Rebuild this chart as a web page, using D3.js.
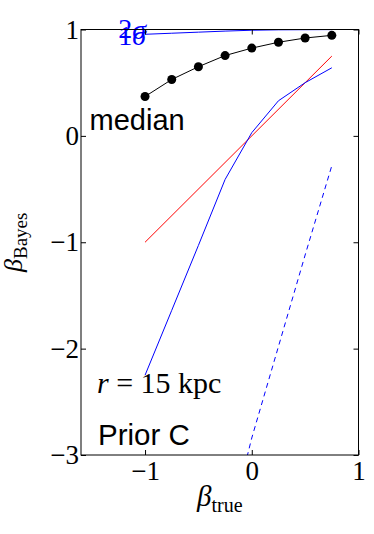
<!DOCTYPE html>
<html>
<head>
<meta charset="utf-8">
<script src="https://cdn.jsdelivr.net/npm/d3@7"></script>
<style>
  body { margin: 0; background: #fff; }
  svg { display: block; }
</style>
</head>
<body>
<div class="svg"></div>
<script>
// beta_true grid
var betaTrue = [-1, -0.75, -0.5, -0.25, 0, 0.25, 0.5, 0.75];
// median of posterior (black dots)
var medianVals = [0.37, 0.53, 0.65, 0.755, 0.825, 0.88, 0.92, 0.945];
// solid blue line
var blueSolid = [-2.25, -1.64, -1.03, -0.41, 0.03, 0.33, 0.50, 0.64];
// dashed blue line (runs below the axis at the left)
var dashX = [-0.25, 0, 0.25, 0.5, 0.75];
var blueDashed = [-3.84, -2.84, -1.98, -1.12, -0.28];
// sigma lines near the top
var sigma1 = [0.955, 0.965, 0.975, 0.985, 0.993, 0.997, 0.998, 0.999];
var sigma2 = [1.0, 1.0, 1.0, 1.0, 1.0, 1.0, 1.0, 1.0];
// one-to-one reference
var refX = [-1, 0.75];
var xTicks = [-1, 0, 1];
var yTicks = [-3, -2, -1, 0, 1];

var width = 374, height = 534;
var margin = {left: 81, right: 15.5, top: 29.5, bottom: 79};

var svg = d3.select(".svg").append("svg")
    .attr("width", width)
    .attr("height", height);

var x = d3.scaleLinear().domain([-1.6, 1]).range([margin.left, width - margin.right]);
var y = d3.scaleLinear().domain([-3, 1]).range([height - margin.bottom, margin.top]);

svg.append("clipPath").attr("id", "clip")
  .append("rect")
    .attr("x", x(-1.6)).attr("y", y(1))
    .attr("width", x(1) - x(-1.6)).attr("height", y(-3) - y(1));

var plot = svg.append("g").attr("clip-path", "url(#clip)");

var line = d3.line()
    .x(function (d) { return x(d[0]); })
    .y(function (d) { return y(d[1]); });

function pairs(xs, ys) {
    return xs.map(function (v, i) { return [v, ys[i]]; });
}

// red 1:1 line
plot.append("path")
    .attr("d", line(pairs(refX, refX)))
    .attr("fill", "none").attr("stroke", "#ff0000").attr("stroke-width", 1);

// blue solid
plot.append("path")
    .attr("d", line(pairs(betaTrue, blueSolid)))
    .attr("fill", "none").attr("stroke", "#0000ff").attr("stroke-width", 1);

// blue dashed
plot.append("path")
    .attr("d", line(pairs(dashX, blueDashed)))
    .attr("fill", "none").attr("stroke", "#0000ff").attr("stroke-width", 1)
    .attr("stroke-dasharray", "5,4");

// sigma lines
[sigma2, sigma1].forEach(function (s) {
    plot.append("path")
        .attr("d", line(pairs(betaTrue, s)))
        .attr("fill", "none").attr("stroke", "#0000ff").attr("stroke-width", 1);
});

// median line + dots
plot.append("path")
    .attr("d", line(pairs(betaTrue, medianVals)))
    .attr("fill", "none").attr("stroke", "#000").attr("stroke-width", 1);
plot.selectAll("circle")
    .data(pairs(betaTrue, medianVals))
    .enter().append("circle")
    .attr("cx", function (d) { return x(d[0]); })
    .attr("cy", function (d) { return y(d[1]); })
    .attr("r", 4.5)
    .attr("fill", "#000");

// sigma labels (they overlap in the original too)
var sig = svg.append("g")
    .attr("font-family", "'Liberation Serif', serif")
    .attr("font-size", 28)
    .attr("fill", "#0000ff")
    .attr("text-anchor", "end")
    .attr("dominant-baseline", "central");
sig.append("text").attr("x", x(betaTrue[0]) + 1).attr("y", y(sigma2[0]) - 1)
    .html('2<tspan font-style="italic">σ</tspan>');
sig.append("text").attr("x", x(betaTrue[0]) + 1).attr("y", y(sigma1[0]) + 1)
    .html('1<tspan font-style="italic">σ</tspan>');

// annotations
svg.append("text")
    .attr("x", x(-1.52)).attr("y", y(0.056))
    .attr("font-family", "'Liberation Sans', Arial, sans-serif")
    .attr("font-size", 29)
    .text("median");
svg.append("text")
    .attr("x", x(-1.45)).attr("y", y(-2.42))
    .attr("font-family", "'Liberation Serif', serif")
    .attr("font-size", 30)
    .html('<tspan font-style="italic">r</tspan> = 15 kpc');
svg.append("text")
    .attr("x", x(-1.44)).attr("y", y(-2.91))
    .attr("font-family", "'Liberation Sans', Arial, sans-serif")
    .attr("font-size", 29.5)
    .text("Prior C");

// axes with inward ticks on all sides
function styleAxis(g) {
    g.select(".domain").remove();
    g.selectAll(".tick line").attr("stroke", "#000").attr("stroke-width", 1);
    g.selectAll(".tick text")
        .attr("font-family", "'Liberation Serif', serif")
        .attr("font-size", 27)
        .attr("fill", "#000");
}
var fmt = function (d) { return d < 0 ? "\u2212" + Math.abs(d) : d; };

svg.append("g")
    .attr("transform", "translate(0," + y(-3) + ")")
    .call(d3.axisBottom(x).tickValues(xTicks).tickFormat(fmt).tickSizeInner(-5).tickPadding(6))
    .call(styleAxis);
svg.append("g")
    .attr("transform", "translate(0," + y(1) + ")")
    .call(d3.axisTop(x).tickValues(xTicks).tickFormat("").tickSizeInner(-5))
    .call(styleAxis);
svg.append("g")
    .attr("transform", "translate(" + x(-1.6) + ",0)")
    .call(d3.axisLeft(y).tickValues(yTicks).tickFormat(fmt).tickSizeInner(-5).tickPadding(2))
    .call(styleAxis);
svg.append("g")
    .attr("transform", "translate(" + x(1) + ",0)")
    .call(d3.axisRight(y).tickValues(yTicks).tickFormat("").tickSizeInner(-5))
    .call(styleAxis);

// frame
svg.append("rect")
    .attr("x", x(-1.6)).attr("y", y(1))
    .attr("width", x(1) - x(-1.6)).attr("height", y(-3) - y(1))
    .attr("fill", "none").attr("stroke", "#000").attr("stroke-width", 1);

// axis labels
svg.append("text")
    .attr("x", (x(-1.6) + x(1)) / 2).attr("y", 506)
    .attr("text-anchor", "middle")
    .attr("font-family", "'Liberation Serif', serif")
    .attr("font-size", 29)
    .html('<tspan font-style="italic">β</tspan><tspan font-size="20" dy="6">true</tspan>');
svg.append("text")
    .attr("transform", "translate(22," + (y(1) + y(-3)) / 2 + ") rotate(-90)")
    .attr("text-anchor", "middle")
    .attr("font-family", "'Liberation Serif', serif")
    .attr("font-size", 26)
    .html('<tspan font-style="italic">β</tspan><tspan font-size="19" dy="5">Bayes</tspan>');
</script>
</body>
</html>
